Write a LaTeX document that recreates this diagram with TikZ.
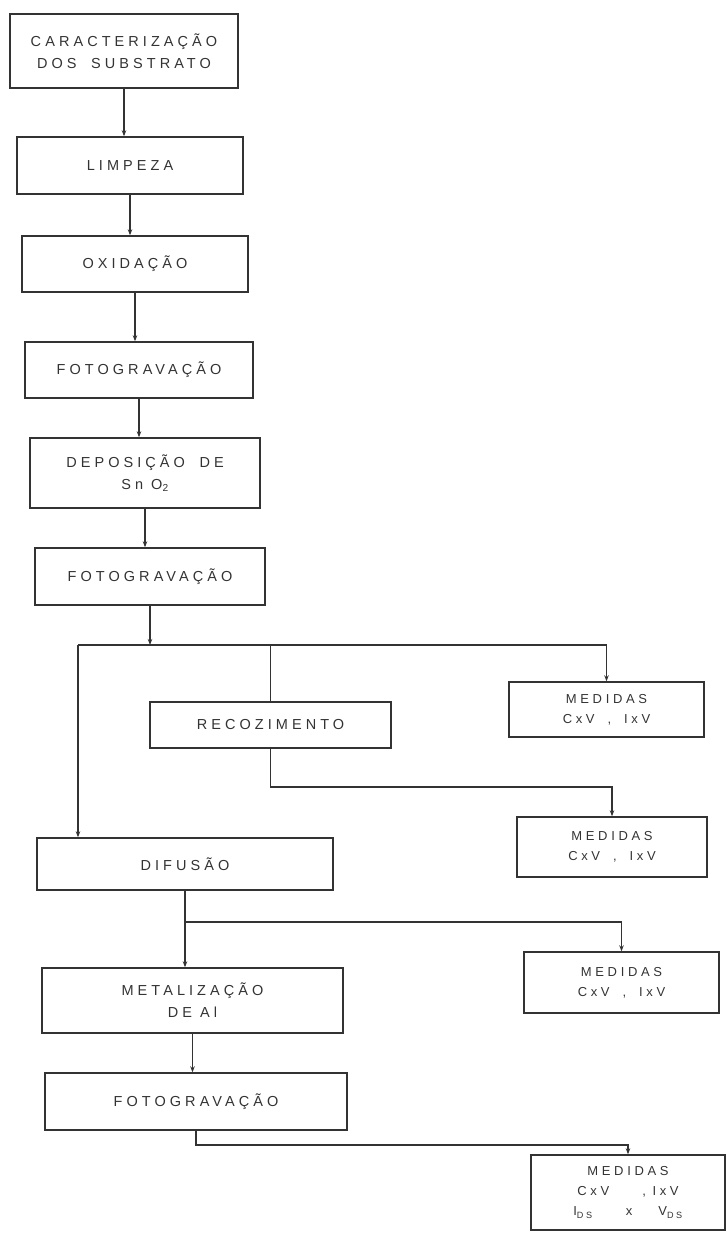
\documentclass[tikz,border=0pt]{standalone}
\usepackage{fontspec}
\setsansfont{Liberation Sans}[LetterSpace=28]
\usetikzlibrary{arrows.meta,positioning}
\definecolor{flowline}{HTML}{333333}
\tikzset{
  stepbox/.style={
    draw=flowline,
    line width=1.4pt,
    align=center,
    font=\sffamily\fontsize{14.5}{22}\selectfont,
    text=flowline,
    inner sep=0pt
  },
  measbox/.style={
    draw=flowline,
    line width=1.4pt,
    align=center,
    font=\sffamily\fontsize{13}{20}\selectfont,
    text=flowline,
    inner sep=0pt
  },
  arrow/.style={
    -{Stealth[length=6pt,width=4.5pt]},
    line width=1.3pt,
    draw=flowline
  },
  link/.style={
    line width=1.3pt,
    draw=flowline
  }
}

\begin{document}
\begin{tikzpicture}[x=1pt,y=-1pt]

\useasboundingbox (0,0) rectangle (727,1233);

% main chain
\node[stepbox, minimum width=228pt, minimum height=74pt] (carac) at (124,51)
  {CARACTERIZAÇÃO\\DOS\quad SUBSTRATO};
\node[stepbox, minimum width=226pt, minimum height=57pt] (limpeza) at (130,165.5) {LIMPEZA};
\node[stepbox, minimum width=226pt, minimum height=56pt] (oxid) at (135,264) {OXIDAÇÃO};
\node[stepbox, minimum width=228pt, minimum height=56pt] (foto1) at (139,370) {FOTOGRAVAÇÃO};
\node[stepbox, minimum width=230pt, minimum height=70pt] (depos) at (145,473)
  {DEPOSIÇÃO\quad DE\\Sn O\textsubscript{2}};
\node[stepbox, minimum width=230pt, minimum height=57pt] (foto2) at (150,576.5) {FOTOGRAVAÇÃO};

% first branch
\node[stepbox, minimum width=241pt, minimum height=46pt] (recoz) at (270.5,725) {RECOZIMENTO};
\node[measbox, minimum width=195pt, minimum height=55pt] (med1) at (606.5,709.5)
  {MEDIDAS\\CxV\quad,\quad IxV};
\node[measbox, minimum width=190pt, minimum height=60pt] (med2) at (612,847)
  {MEDIDAS\\CxV\quad,\quad IxV};
\node[stepbox, minimum width=296pt, minimum height=52pt] (difusao) at (185,864) {DIFUSÃO};

% second branch
\node[measbox, minimum width=195pt, minimum height=61pt] (med3) at (621.5,982.5)
  {MEDIDAS\\CxV\quad,\quad IxV};
\node[stepbox, minimum width=301pt, minimum height=65pt] (metal) at (192.5,1000.5)
  {METALIZAÇÃO\\DE Al};
\node[stepbox, minimum width=302pt, minimum height=57pt] (foto3) at (196,1101.5) {FOTOGRAVAÇÃO};
\node[measbox, minimum width=194pt, minimum height=75pt] (med4) at (628,1192.5)
  {MEDIDAS\\CxV\qquad\ ,\enspace IxV\\I\textsubscript{DS}\qquad\ x\qquad V\textsubscript{DS}};

\coordinate (fork1) at (150,645);
\coordinate (forkleft) at (78,645);
\coordinate (fork2) at (270.5,787);
\coordinate (fork3) at (185,922);
\coordinate (fork4) at (196,1145);

\draw[arrow] (carac) -- (carac |- limpeza.north);
\draw[arrow] (limpeza) -- (limpeza |- oxid.north);
\draw[arrow] (oxid) -- (oxid |- foto1.north);
\draw[arrow] (foto1) -- (foto1 |- depos.north);
\draw[arrow] (depos) -- (depos |- foto2.north);
\draw[arrow] (foto2) -- (fork1);
\draw[link] (forkleft) -- (fork1 -| med1);
\draw[arrow] (fork1 -| med1) -- (med1);
\draw[arrow] (forkleft) -- (forkleft |- difusao.north);
\draw[link] (fork1 -| recoz) -- (recoz);
\draw[arrow] (recoz) -- (fork2) -| (med2);
\draw[arrow] (difusao) -- (difusao |- metal.north);
\draw[arrow] (fork3) -| (med3);
\draw[arrow] (metal) -- (metal |- foto3.north);
\draw[arrow] (foto3) -- (fork4) -| (med4);

\end{tikzpicture}
\end{document}
